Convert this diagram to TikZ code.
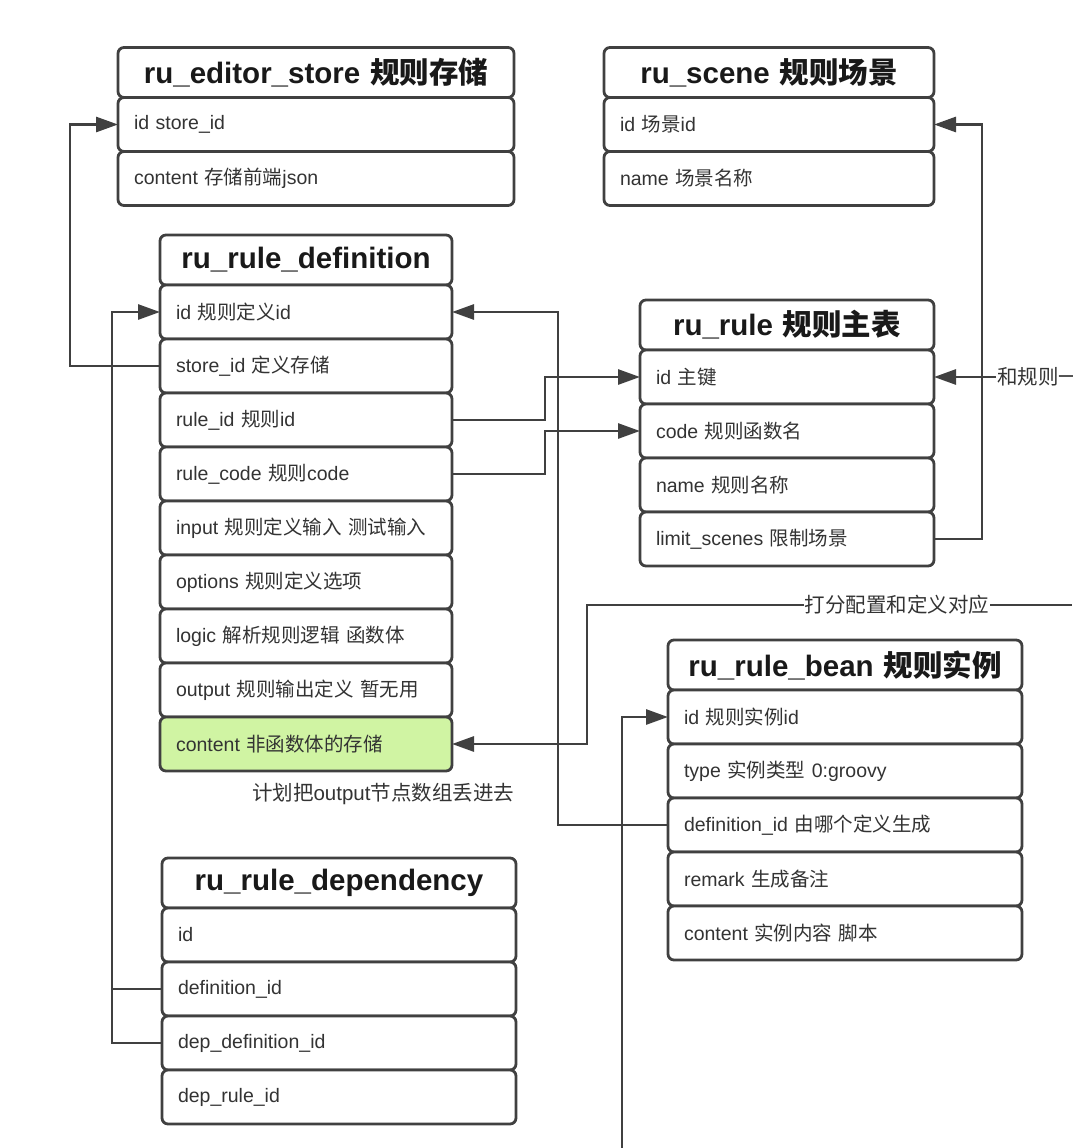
\documentclass[tikz,border=0pt]{standalone}
\usepackage{fontspec}
\setmainfont{Liberation Sans}
\newfontfamily\cjk{Noto Sans CJK SC}
\newcommand{\zh}[1]{{\cjk #1}}
\usetikzlibrary{positioning,arrows.meta}
\definecolor{lc}{RGB}{64,64,64}
\definecolor{gf}{RGB}{208,244,163}

\begin{document}
\begin{tikzpicture}[x=1pt, y=-1pt, node distance=0pt,
  rw/.style={draw=lc, line width=2.8pt, rounded corners=6pt, fill=white, text width=#1, inner xsep=16pt, inner ysep=0pt, minimum height=54pt, align=left, outer sep=0pt, font=\fontsize{19.5}{23}\selectfont, text=black!80},
  hd/.style={rw=#1, align=center, minimum height=50pt, font=\fontsize{29.5}{34}\selectfont\bfseries, text=black!90},
  nt/.style={inner sep=1pt, font=\fontsize{20.5}{24}\selectfont, text=black!80},
  ln/.style={draw=lc, line width=2.8pt},
  ar/.style={ln, -{Triangle[length=22pt, width=15pt]}}]
	\useasboundingbox (0,0) rectangle (1072,1148);

	\node[hd=364pt] (ES) at (316,72.5) {ru\_editor\_store \zh{规则存储}};
	\node[rw=364pt, below=of ES] (ES1) {id store\_id};
	\node[rw=364pt, below=of ES1] (ES2) {content \zh{存储前端}json};

	\node[hd=298pt] (SC) at (769,72.5) {ru\_scene \zh{规则场景}};
	\node[rw=298pt, below=of SC] (SC1) {id \zh{场景}id};
	\node[rw=298pt, below=of SC1] (SC2) {name \zh{场景名称}};

	\node[hd=260pt] (DF) at (306,260) {ru\_rule\_definition};
	\node[rw=260pt, below=of DF] (DF1) {id \zh{规则定义}id};
	\node[rw=260pt, below=of DF1] (DF2) {store\_id \zh{定义存储}};
	\node[rw=260pt, below=of DF2] (DF3) {rule\_id \zh{规则}id};
	\node[rw=260pt, below=of DF3] (DF4) {rule\_code \zh{规则}code};
	\node[rw=260pt, below=of DF4] (DF5) {input \zh{规则定义输入 测试输入}};
	\node[rw=260pt, below=of DF5] (DF6) {options \zh{规则定义选项}};
	\node[rw=260pt, below=of DF6] (DF7) {logic \zh{解析规则逻辑 函数体}};
	\node[rw=260pt, below=of DF7] (DF8) {output \zh{规则输出定义 暂无用}};
	\node[rw=260pt, fill=gf, below=of DF8] (DF9) {content \zh{非函数体的存储}};

	\node[hd=262pt] (RL) at (787,325) {ru\_rule \zh{规则主表}};
	\node[rw=262pt, below=of RL] (RL1) {id \zh{主键}};
	\node[rw=262pt, below=of RL1] (RL2) {code \zh{规则函数名}};
	\node[rw=262pt, below=of RL2] (RL3) {name \zh{规则名称}};
	\node[rw=262pt, below=of RL3] (RL4) {limit\_scenes \zh{限制场景}};

	\node[hd=322pt] (BN) at (845,665) {ru\_rule\_bean \zh{规则实例}};
	\node[rw=322pt, below=of BN] (BN1) {id \zh{规则实例}id};
	\node[rw=322pt, below=of BN1] (BN2) {type \zh{实例类型} 0:groovy};
	\node[rw=322pt, below=of BN2] (BN3) {definition\_id \zh{由哪个定义生成}};
	\node[rw=322pt, below=of BN3] (BN4) {remark \zh{生成备注}};
	\node[rw=322pt, below=of BN4] (BN5) {content \zh{实例内容 脚本}};

	\node[hd=322pt] (DP) at (339,883) {ru\_rule\_dependency};
	\node[rw=322pt, below=of DP] (DP1) {id};
	\node[rw=322pt, below=of DP1] (DP2) {definition\_id};
	\node[rw=322pt, below=of DP2] (DP3) {dep\_definition\_id};
	\node[rw=322pt, below=of DP3] (DP4) {dep\_rule\_id};

	\node[nt] (N1) at (383,794) {\zh{计划把}output\zh{节点数组丢进去}};
	\node[nt, right=62pt of RL1] (N2) {\zh{和规则一}};
	\node[nt] (N3) at (897,605) {\zh{打分配置和定义对应}};
	\coordinate (E3) at (1072,605);
	\coordinate (K3) at (587,605);
	\coordinate (B1) at (622,1148);

	\draw[ar] (DF2.west) -- ++(-90,0) |- (ES1.west);
	\draw[ar] (DP2.west) -- ++(-50,0) |- (DF1.west);
	\draw[ln] (DP3.west) -- ++(-50,0) |- (DP2.west);
	\draw[ar] (DF3.east) -- ++(93,0) |- (RL1.west);
	\draw[ar] (DF4.east) -- ++(93,0) |- (RL2.west);
	\draw[ar] (RL4.east) -- ++(48,0) |- (SC1.east);
	\draw[ar] (N2.west) -- (RL1.east);
	\draw[ln] (N3.east) -- (E3);
	\draw[ar] (N3.west) -- (K3) |- (DF9.east);
	\draw[ar] (BN3.west) -- ++(-110,0) |- (DF1.east);
	\draw[ar] (B1) |- (BN1.west);
\end{tikzpicture}
\end{document}
